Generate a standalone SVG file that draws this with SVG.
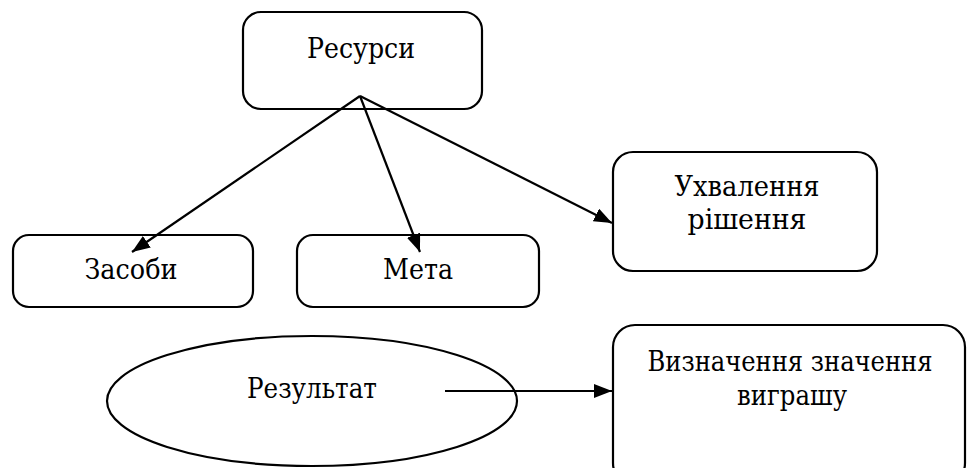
<svg xmlns="http://www.w3.org/2000/svg" width="967" height="468" viewBox="0 0 967 468">
<defs>
<style>
.n{fill:#fff;stroke:#000;stroke-width:2.2}
.t{font-family:"DejaVu Serif",serif;font-size:28px;fill:#000;text-anchor:middle}
.c{stroke:#000;stroke-width:2.2;fill:none}
</style>
<marker id="a" viewBox="0 0 18 14" refX="18" refY="7" markerWidth="18" markerHeight="14" markerUnits="userSpaceOnUse" orient="auto">
<path d="M0,0 L18,7 L0,14 Z" fill="#000"/>
</marker>
</defs>
<rect width="967" height="468" fill="#fff"/>
<g id="resursy"><rect class="n" x="243" y="12" width="239" height="97" rx="18"/><text class="t" x="361" y="58" textLength="108" lengthAdjust="spacingAndGlyphs">Ресурси</text></g>
<g id="zasoby"><rect class="n" x="13" y="235" width="240" height="72" rx="16"/><text class="t" x="131" y="279" textLength="93" lengthAdjust="spacingAndGlyphs">Засоби</text></g>
<g id="meta"><rect class="n" x="297" y="235" width="242" height="72" rx="16"/><text class="t" x="418" y="279" textLength="70" lengthAdjust="spacingAndGlyphs">Мета</text></g>
<g id="ukhvalennia"><rect class="n" x="613" y="152" width="264" height="119" rx="20"/><text class="t" x="747" y="196" textLength="145" lengthAdjust="spacingAndGlyphs">Ухвалення</text><text class="t" x="747" y="229" textLength="119" lengthAdjust="spacingAndGlyphs">рішення</text></g>
<g id="rezultat"><ellipse class="n" cx="312" cy="401" rx="205" ry="65"/><text class="t" x="312" y="398" textLength="130" lengthAdjust="spacingAndGlyphs">Результат</text></g>
<g id="vyznachennia"><rect class="n" x="613" y="325" width="352" height="160" rx="22"/><text class="t" x="790" y="371" textLength="285" lengthAdjust="spacingAndGlyphs">Визначення значення</text><text class="t" x="792" y="405" textLength="110" lengthAdjust="spacingAndGlyphs">виграшу</text></g>
<g id="connectors">
<line class="c" x1="360" y1="96" x2="132" y2="252" marker-end="url(#a)"/>
<line class="c" x1="360" y1="96" x2="420" y2="252" marker-end="url(#a)"/>
<line class="c" x1="360" y1="96" x2="612" y2="223" marker-end="url(#a)"/>
<line class="c" x1="445" y1="391" x2="612" y2="391" marker-end="url(#a)"/>
</g>
</svg>
